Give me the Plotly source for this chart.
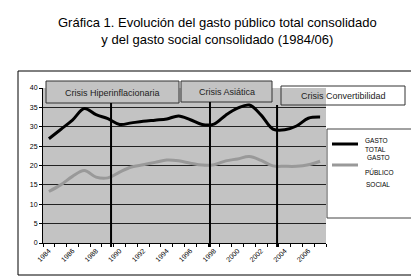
import plotly.graph_objects as go

years = list(range(1984, 2008))
gasto_total = [26.9, 29.3, 31.7, 34.7, 33.1, 32.1, 30.6, 31.0, 31.4, 31.7, 32.0, 32.8,
               31.8, 30.6, 30.7, 33.0, 34.8, 35.6, 33.0, 29.4, 29.2, 30.2, 32.2, 32.5]
gasto_social = [13.3, 15.0, 17.2, 18.7, 17.0, 16.8, 18.3, 19.6, 20.2, 20.8, 21.4, 21.2,
                20.6, 20.1, 20.2, 21.2, 21.7, 22.3, 21.3, 19.9, 19.8, 19.8, 20.2, 21.1]
tick_years = list(range(1984, 2007, 2))
tick_labels = [str(y) for y in tick_years]
crisis_names = ["Crisis Hiperinflacionaria", "Crisis Asiática", "Crisis Convertibilidad"]
crisis_x = [1989.27, 1997.66, 2003.35]

W, H = 419, 279
L, R, T, B = 35, 101, 80, 44
PW, PH = W - L - R, H - T - B
XMIN, XMAX = 1983.5, 2007.5

def px(xp):
    return (xp - L) / PW

def py(yp):
    return (H - B - yp) / PH

fig = go.Figure()
fig.add_trace(go.Scatter(x=years, y=gasto_total, mode="lines",
                         line=dict(color="#000000", width=3, shape="spline", smoothing=1),
                         name="GASTO TOTAL", showlegend=False))
fig.add_trace(go.Scatter(x=years, y=gasto_social, mode="lines",
                         line=dict(color="#999999", width=3, shape="spline", smoothing=1),
                         name="GASTO PÚBLICO SOCIAL", showlegend=False))

shapes = []
annotations = []
font_small = "Liberation Sans, Arial, sans-serif"

# outer frame
shapes.append(dict(type="rect", xref="paper", yref="paper",
                   x0=px(10), x1=px(410), y0=py(267), y1=py(63),
                   line=dict(color="#000000", width=1), fillcolor="rgba(0,0,0,0)", layer="below"))

# crisis boxes
boxes = [(38, 171, 73, 95, "#c3c3c3"), (173, 264, 73, 94, "#c3c3c3"), (273, 397, 78, 97, "rgba(0,0,0,0)")]
for (x0, x1, y0, y1, fc), name in zip(boxes, crisis_names):
    shapes.append(dict(type="rect", xref="paper", yref="paper",
                       x0=px(x0), x1=px(x1), y0=py(y1), y1=py(y0),
                       line=dict(color="#333333", width=1), fillcolor=fc, layer="above"))
    annotations.append(dict(xref="paper", yref="paper", x=px((x0 + x1) / 2), y=py((y0 + y1) / 2 + 0.5),
                            text=name, showarrow=False, xanchor="center", yanchor="middle",
                            font=dict(family=font_small, size=9, color="#222222")))

# crisis vertical lines
box_bottoms = [95, 94, 97]
for cx, bb in zip(crisis_x, box_bottoms):
    shapes.append(dict(type="line", xref="x", yref="paper", x0=cx, x1=cx,
                       y0=py(239), y1=py(bb), line=dict(color="#000000", width=2), layer="above"))

# legend
shapes.append(dict(type="rect", xref="paper", yref="paper",
                   x0=px(319), x1=px(408), y0=py(210), y1=py(121),
                   line=dict(color="#444444", width=1), fillcolor="#ffffff", layer="above"))
shapes.append(dict(type="line", xref="paper", yref="paper", x0=px(324), x1=px(350),
                   y0=py(136), y1=py(136), line=dict(color="#000000", width=3), layer="above"))
shapes.append(dict(type="line", xref="paper", yref="paper", x0=px(324), x1=px(350),
                   y0=py(157), y1=py(157), line=dict(color="#999999", width=3), layer="above"))
leg_texts = [("GASTO", 355, 132), ("TOTAL", 355, 141), ("GASTO", 357, 149),
             ("PÚBLICO", 355, 164), ("SOCIAL", 356, 176)]
for t, xx, yy in leg_texts:
    annotations.append(dict(xref="paper", yref="paper", x=px(xx), y=py(yy), text=t,
                            showarrow=False, xanchor="left", yanchor="middle",
                            font=dict(family=font_small, size=6.5, color="#000000")))

# title
annotations.append(dict(xref="paper", yref="paper", x=px(209.5), y=py(23),
                        text="Gráfica 1. Evolución del gasto público total consolidado<br>y del gasto social consolidado (1984/06)",
                        showarrow=False, xanchor="center", yanchor="middle", align="center",
                        font=dict(family="Liberation Sans Narrow, Arial Narrow, Liberation Sans, Arial, sans-serif",
                                  size=13, color="#000000")))

fig.update_layout(
    width=W, height=H,
    margin=dict(l=L, r=R, t=T, b=B, pad=0),
    paper_bgcolor="#ffffff", plot_bgcolor="#c3c3c3",
    shapes=shapes, annotations=annotations, showlegend=False,
    xaxis=dict(range=[XMIN, XMAX], tickmode="array", tickvals=tick_years, ticktext=tick_labels,
               tickangle=-45, ticks="", showgrid=False, zeroline=False,
               showline=True, linecolor="#000000", linewidth=1,
               tickfont=dict(family=font_small, size=7, color="#000000"),
               minor=dict(tickmode="array", tickvals=[XMIN + k for k in range(25)],
                          ticks="outside", ticklen=3, tickcolor="#000000", showgrid=False)),
    yaxis=dict(range=[0, 40], tickmode="linear", tick0=0, dtick=5,
               ticks="outside", ticklen=3, tickcolor="#000000",
               showgrid=True, gridcolor="#222222", gridwidth=1, zeroline=False,
               showline=True, linecolor="#000000", linewidth=1,
               tickfont=dict(family=font_small, size=7, color="#000000")),
)

fig.write_html("out.html")
